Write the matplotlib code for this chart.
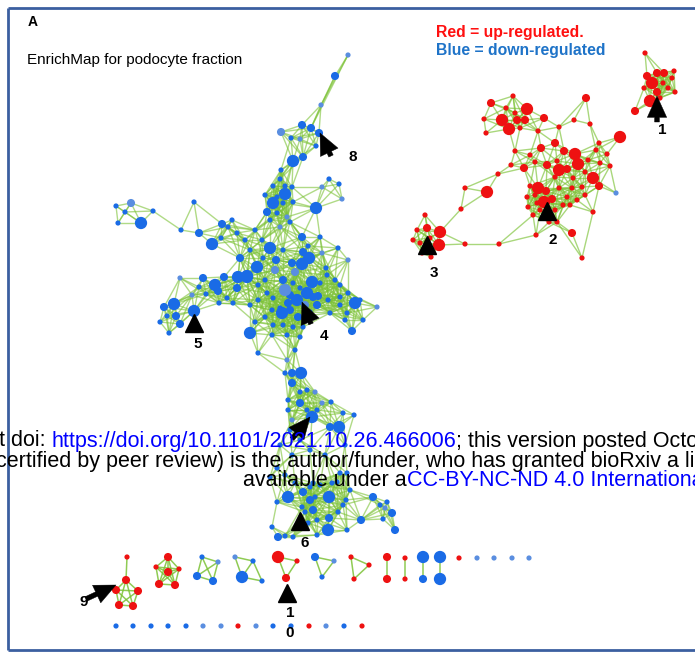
import numpy as np
import matplotlib
matplotlib.use("Agg")
import matplotlib.pyplot as plt

plt.rcParams['font.family'] = ['Liberation Sans', 'DejaVu Sans']

# ---------------- data ----------------
# nodes: (x, y, size-class, colour-class)  b=blue, l=light blue, r=red
BLUE_TOP = [(348,55,1,'l'),(335,76,2,'b'),(321,105,1,'l'),(302,125,2,'b'),(311,128,2,'b'),(319,133,2,'b'),
            (281,132,2,'l'),(291,138,1,'b'),(300,139,1,'l'),(316,146,1,'b'),(303,157,2,'b'),(293,161,3,'b')]
BLUE_LEFT = [(116,206,1,'b'),(131,203,2,'l'),(125,212,1,'b'),(153,211,1,'b'),(118,223,1,'b'),(141,223,3,'b'),
             (181,230,1,'b'),(194,202,1,'b')]
BLUE_UPPER = [(280,179,1,'b'),(273,186,1,'b'),(285,186,1,'b'),(292,187,1,'b'),(285,194,3,'b'),(265,195,1,'b'),
              (277,197,1,'b'),(293,202,1,'b'),(273,203,3,'b'),(283,203,1,'b'),(267,212,2,'b'),(277,213,1,'b'),
              (287,217,1,'l'),(270,220,1,'b'),(280,227,1,'l'),(290,222,1,'b'),(281,170,1,'b'),
              (329,179,1,'b'),(339,184,1,'b'),(322,187,1,'l'),(316,208,3,'b'),(342,199,1,'l'),(320,237,1,'b'),
              (302,237,2,'b'),(338,248,1,'b'),(348,260,1,'l')]
BLUE_CORE = [(199,233,2,'b'),(212,244,3,'b'),(222,224,2,'b'),(221,238,1,'b'),(232,220,1,'b'),(228,227,1,'b'),
             (237,233,1,'b'),(180,278,1,'l'),(203,278,2,'b'),(215,285,3,'b'),(199,287,1,'b'),(206,294,1,'b'),
             (218,291,2,'b'),(192,295,1,'l'),(224,277,2,'b'),(238,277,3,'b'),(247,277,3,'b'),(237,288,2,'b'),
             (227,298,1,'b'),(233,303,1,'b'),(219,303,1,'b'),
             (270,248,3,'b'),(263,258,1,'b'),(283,250,1,'b'),(276,260,2,'b'),(257,267,3,'b'),(247,276,3,'b'),
             (265,280,1,'b'),(283,280,2,'b'),(292,263,2,'b'),(302,264,3,'b'),(309,258,3,'b'),(303,252,2,'b'),
             (308,246,1,'b'),(293,283,1,'b'),(312,282,3,'b'),(320,283,1,'b'),(300,288,1,'b'),(290,295,2,'b'),
             (307,293,3,'b'),(313,297,2,'b'),(318,296,2,'b'),(327,275,1,'b'),(297,300,3,'b'),(288,303,2,'b'),
             (280,308,1,'b'),(272,310,1,'b'),(282,313,3,'b'),(258,285,1,'b'),(267,293,1,'b'),(258,300,1,'b'),
             (250,305,1,'b'),(273,298,1,'b'),(290,310,2,'b'),(298,317,2,'b'),(310,312,1,'b'),(317,305,2,'b'),
             (265,317,1,'b'),(273,325,1,'b'),(255,322,1,'b'),(283,325,1,'b'),(293,327,1,'b'),(303,327,1,'b'),
             (250,333,3,'b'),(272,335,1,'b'),(287,335,1,'b'),(300,337,1,'b'),(262,240,1,'b'),
             (250,250,1,'b'),(240,258,2,'b'),(255,230,1,'b'),(245,240,1,'b'),(295,272,2,'l'),(305,305,2,'l'),
             (285,290,3,'l'),(275,270,2,'l'),
             (328,300,1,'b'),(340,297,1,'b'),(348,293,1,'b'),(355,303,3,'b'),(340,305,1,'b'),(330,313,1,'b'),
             (347,313,1,'b'),(363,320,1,'b'),(377,307,1,'l'),(352,331,2,'b'),(335,280,1,'b'),(340,285,1,'b'),
             (326,268,1,'b'),(322,253,1,'l'),(360,300,1,'b'),(345,320,1,'b')]
BLUE_CLUSTER5 = [(174,304,3,'b'),(164,307,2,'b'),(194,311,3,'b'),(176,316,2,'b'),(167,316,1,'b'),
                 (160,322,1,'b'),(180,324,2,'b'),(169,333,1,'b')]
BLUE_MIDDLE = [(258,353,1,'b'),(295,350,1,'b'),(287,360,1,'l'),(285,373,1,'b'),(292,373,2,'b'),(301,373,3,'b'),
               (292,383,2,'b'),(300,392,1,'b'),(307,390,1,'b'),(315,392,1,'l'),(288,400,1,'b'),(300,403,2,'b'),
               (307,410,1,'b'),(322,403,1,'l'),(331,402,1,'b'),(312,417,3,'b'),(288,410,1,'b'),(330,427,2,'b'),
               (339,427,3,'b'),(343,413,1,'b'),(354,415,1,'b'),(292,420,1,'l'),(317,410,1,'b'),
               (290,430,1,'b'),(300,440,1,'b'),(280,445,1,'b'),(345,445,1,'b'),(310,450,1,'b'),(292,455,1,'b'),
               (325,455,1,'b'),(277,468,1,'b'),(285,475,1,'b'),(270,477,1,'b'),(313,483,1,'b'),(332,483,1,'b'),
               (340,473,1,'b'),(350,490,1,'b')]
BLUE_CLUSTER6 = [(288,497,3,'b'),(295,483,1,'b'),(303,492,2,'b'),(310,487,1,'b'),(329,497,3,'b'),(310,500,2,'b'),
                 (302,507,1,'b'),(313,510,2,'b'),(317,520,1,'b'),(305,512,1,'b'),(277,502,1,'b'),(272,527,1,'b'),
                 (278,537,2,'b'),(285,536,1,'b'),(293,537,1,'b'),(328,530,3,'b'),(329,518,2,'b'),(347,530,1,'b'),
                 (338,512,1,'b'),(346,500,1,'b'),(347,473,1,'b'),(320,485,1,'b'),(361,520,2,'b'),(373,497,2,'b'),
                 (383,519,1,'b'),(387,502,1,'b'),(392,513,2,'b'),(395,530,2,'b'),(385,508,1,'l'),(380,505,1,'b'),
                 (337,482,1,'b'),(343,505,1,'b'),(315,497,1,'b'),(308,523,1,'b'),(317,535,1,'b')]

RED_CLUSTER1 = [(652,83,3,'r'),(657,73,2,'r'),(664,73,2,'r'),(647,76,2,'r'),(672,78,1,'r'),(674,71,1,'r'),
                (644,88,1,'r'),(657,92,2,'r'),(675,92,1,'r'),(663,83,1,'r'),(650,101,3,'r'),(668,88,1,'r'),
                (660,98,1,'r'),(645,53,1,'r'),(635,111,2,'r'),(620,137,3,'r')]
RED_UPPER = [(513,96,1,'r'),(491,103,2,'r'),(527,109,3,'r'),(506,108,1,'r'),(515,113,1,'r'),(484,119,1,'r'),
             (502,120,3,'r'),(517,120,2,'r'),(525,120,2,'r'),(509,129,3,'r'),(486,133,1,'r'),(544,118,2,'r'),
             (538,131,1,'r'),(559,127,1,'r'),(520,128,1,'r'),(586,98,2,'r'),(574,120,1,'r'),(590,124,1,'r')]
RED_MIDDLE = [(555,143,2,'r'),(541,148,2,'r'),(564,151,2,'r'),(575,154,3,'r'),(515,151,1,'r'),(524,168,2,'r'),
              (511,165,1,'r'),(535,162,1,'r'),(547,165,2,'r'),(559,170,3,'r'),(567,169,2,'r'),(578,164,3,'r'),
              (557,161,1,'r'),(555,177,1,'r'),(599,143,1,'r'),(596,150,1,'r'),(607,154,1,'r'),(600,163,1,'r'),
              (610,166,1,'r'),(593,178,3,'r'),(599,186,2,'r'),(573,178,1,'r'),(530,155,1,'r'),(585,172,1,'r'),
              (588,160,1,'r'),(616,193,1,'l')]
RED_CLUSTER2 = [(538,188,3,'r'),(546,191,2,'r'),(530,186,1,'r'),(527,197,1,'r'),(535,195,1,'r'),(544,202,3,'r'),
                (552,199,2,'r'),(537,203,1,'r'),(528,207,1,'r'),(533,215,1,'r'),(549,222,1,'r'),(559,188,1,'r'),
                (567,197,1,'r'),(577,200,1,'r'),(572,188,1,'r'),(582,187,1,'r'),(585,195,1,'r'),(563,205,1,'r'),
                (593,212,1,'r'),(540,210,1,'r'),(555,210,1,'r'),(570,205,1,'r'),
                (572,233,2,'r'),(536,235,1,'r'),(557,222,1,'r'),(582,258,1,'r'),(499,244,1,'r'),(465,244,1,'r')]
RED_LEFT = [(487,192,3,'r'),(498,174,1,'r'),(465,188,1,'r'),(461,209,1,'r'),
            (440,232,3,'r'),(427,228,2,'r'),(439,245,3,'r'),(425,215,1,'r'),(417,230,1,'r'),(413,240,1,'r'),
            (420,243,1,'r'),(431,257,1,'r'),(422,253,1,'r'),(430,238,1,'r')]

# small separate components (row below main network)
COMPONENTS = [
    [(127,557,1,'r'),(126,580,2,'r'),(116,590,2,'r'),(138,591,2,'r'),(119,605,2,'r'),(133,606,2,'r')],
    [(168,557,2,'r'),(156,567,1,'r'),(179,569,1,'r'),(168,572,2,'r'),(159,584,2,'r'),(175,585,2,'r')],
    [(202,557,1,'b'),(218,562,1,'l'),(197,576,2,'b'),(213,581,2,'b')],
    [(235,557,1,'l'),(253,561,1,'b'),(242,577,3,'b'),(262,581,1,'b')],
    [(278,557,3,'r'),(297,561,1,'r'),(286,578,2,'r')],
    [(315,557,2,'b'),(334,561,1,'l'),(322,577,1,'b')],
    [(351,557,1,'r'),(369,565,1,'r'),(354,579,1,'r')],
    [(387,557,2,'r'),(387,579,2,'r')],
    [(405,558,1,'r'),(405,579,1,'r')],
    [(423,557,3,'b'),(423,579,2,'b')],
    [(440,557,3,'b'),(440,579,3,'b')],
]
SINGLETONS = [(459,558,1,'r'),(477,558,1,'l'),(494,558,1,'l'),(512,558,1,'l'),(529,558,1,'l'),
              (116,626,1,'b'),(133,626,1,'b'),(151,626,1,'b'),(168,626,1,'b'),(186,626,1,'b'),
              (203,626,1,'l'),(221,626,1,'l'),(238,626,1,'r'),(256,626,1,'l'),(273,626,1,'b'),
              (291,626,1,'b'),(309,626,1,'r'),(326,626,1,'l'),(344,626,1,'b'),(362,626,1,'r')]

# annotation marks: (label, label x, label y)
LABELS = [("8",353,157),("4",324,336),("5",198,344),("1",662,130),("2",553,240),("3",434,273),
          ("6",305,543),("9",84,602),("1",290,613),("0",290,633)]
ARROWS = [((320,133),(331,156)),((302,302),(311,324)),((310,417),(292,439)),((657,96),(657,122)),
          ((116,585),(86,599))]
TRIANGLES = [(194,323),(547,211),(427,245),(300,521),(287,593)]

# ---------------- drawing ----------------
SIZE = {1: 14, 2: 34, 3: 78}
COL = {'b': '#1a6be6', 'l': '#5a8ee0', 'r': '#ee1111'}
EDGE = '#7cc236'

fig = plt.figure(figsize=(6.95, 6.56), dpi=100)
ax = fig.add_axes([0, 0, 1, 1])
ax.set_xlim(0, 695)
ax.set_ylim(656, 0)
ax.axis('off')


def edges_for(nodes, thr, k):
    pts = np.array([(n[0], n[1]) for n in nodes], float)
    n = len(pts)
    d = np.hypot(pts[:, None, 0] - pts[None, :, 0], pts[:, None, 1] - pts[None, :, 1])
    pairs = set()
    for i in range(n):
        order = np.argsort(d[i])
        for j in order[1:k + 1]:
            pairs.add((min(i, j), max(i, j)))
        for j in range(n):
            if j != i and d[i, j] < thr:
                pairs.add((min(i, j), max(i, j)))
    return [(pts[i], pts[j]) for i, j in pairs]


def draw_net(nodes, thr, k, alpha=0.55, lw=0.8):
    for a, b in edges_for(nodes, thr, k):
        ax.plot([a[0], b[0]], [a[1], b[1]], color=EDGE, lw=lw, alpha=alpha, zorder=1,
                solid_capstyle='round')


def draw_nodes(nodes):
    xs = [n[0] for n in nodes]
    ys = [n[1] for n in nodes]
    ss = [SIZE[n[2]] for n in nodes]
    cs = [COL[n[3]] for n in nodes]
    ax.scatter(xs, ys, s=ss, c=cs, linewidths=0, zorder=3)


blue_net = BLUE_TOP + BLUE_LEFT + BLUE_UPPER + BLUE_CORE + BLUE_CLUSTER5 + BLUE_MIDDLE + BLUE_CLUSTER6
red_net = RED_CLUSTER1 + RED_UPPER + RED_MIDDLE + RED_CLUSTER2 + RED_LEFT

draw_net(blue_net, 34, 3, alpha=0.6, lw=1.0)
draw_net(red_net, 27, 3, alpha=0.65, lw=1.0)
for comp in COMPONENTS:
    draw_net(comp, 30, 1, alpha=0.85, lw=1.1)

draw_nodes(blue_net)
draw_nodes(red_net)
for comp in COMPONENTS:
    draw_nodes(comp)
draw_nodes(SINGLETONS)

# arrows & triangles
for tip, tail in ARROWS:
    ax.annotate('', xy=tip, xytext=tail, zorder=6,
                arrowprops=dict(arrowstyle='simple,head_width=1.0,head_length=1.1,tail_width=0.25',
                                fc='black', ec='black', lw=0.3, shrinkA=0, shrinkB=0,
                                mutation_scale=14))
tx = [t[0] for t in TRIANGLES]
ty = [t[1] for t in TRIANGLES]
ax.plot(tx, ty, ls='none', marker='^', ms=13, color='black', zorder=6)
for lab, x, y in LABELS:
    ax.text(x, y, lab, fontsize=11, fontweight='bold', ha='center', va='center', zorder=7)

# headings
ax.text(33, 22, "A", fontsize=10, fontweight='bold', ha='center', va='center', zorder=7)
ax.text(27, 60, "EnrichMap for podocyte fraction", fontsize=11, ha='left', va='center', zorder=7)
ax.text(436, 32, "Red = up-regulated.", fontsize=11.3, fontweight='bold', color='#ff1010',
        ha='left', va='center', zorder=7)
ax.text(436, 51, "Blue = down-regulated", fontsize=11.3, fontweight='bold', color='#1e73c8',
        ha='left', va='center', zorder=7)

# frame
FRAME = '#3b5fa0'
ax.plot([8, 700], [8, 8], color=FRAME, lw=2, zorder=0, solid_capstyle='butt')
ax.plot([8, 8], [8, 650], color=FRAME, lw=2, zorder=0, solid_capstyle='butt')
ax.plot([8, 700], [650, 650], color=FRAME, lw=2, zorder=0, solid_capstyle='butt')

# bioRxiv overlay text (cut by the right edge, as in the reference)
FS = 15.5
t1 = ax.text(-1, 441, "t doi: ", fontsize=FS, ha='left', va='center', zorder=8)
t2 = ax.annotate("https://doi.org/10.1101/2021.10.26.466006", xy=(1, 0), xycoords=t1,
                 va='bottom', ha='left', fontsize=FS, color='#0000ff', zorder=8)
ax.annotate("; this version posted Octo", xy=(1, 0), xycoords=t2,
            va='bottom', ha='left', fontsize=FS, zorder=8)
ax.text(-4, 461, "certified by peer review) is the author/funder, who has granted bioRxiv a lic",
        fontsize=FS, ha='left', va='center', zorder=8)
t5 = ax.text(243, 481, "available under a", fontsize=FS, ha='left', va='center', zorder=8)
ax.annotate("CC-BY-NC-ND 4.0 Internationa", xy=(1, 0), xycoords=t5,
            va='bottom', ha='left', fontsize=FS, color='#0000ff', zorder=8)

fig.savefig("out.png", dpi=100)
